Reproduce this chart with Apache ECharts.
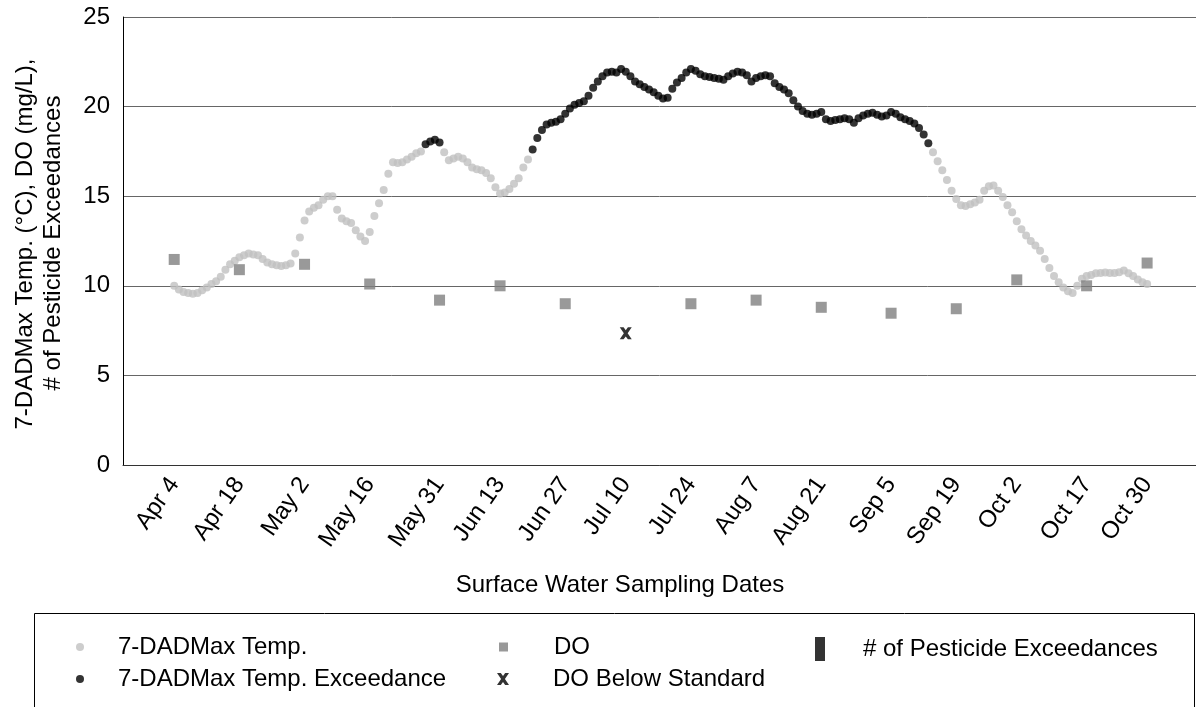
<!DOCTYPE html>
<html>
<head>
<meta charset="utf-8">
<script src="https://cdn.jsdelivr.net/npm/echarts@6/dist/echarts.min.js"></script>
<style>
  html, body { margin: 0; padding: 0; background: #fff; }
  #chart { width: 1196px; height: 707px; }
</style>
</head>
<body>
<div id="chart"></div>
<script>
// sampling dates (labels) and their day offset from Apr 4
const sampleLabels = ["Apr 4", "Apr 18", "May 2", "May 16", "May 31", "Jun 13", "Jun 27", "Jul 10",
  "Jul 24", "Aug 7", "Aug 21", "Sep 5", "Sep 19", "Oct 2", "Oct 17", "Oct 30"];
const sampleDays = [0, 14, 28, 42, 57, 70, 84, 97, 111, 125, 139, 154, 168, 181, 196, 209];

// dissolved oxygen (mg/L) per sampling date, null where below standard
const doValues = [11.47, 10.9, 11.2, 10.1, 9.2, 10.0, 9.0, null, 9.0, 9.2, 8.8, 8.47, 8.72, 10.33, 10.0, 11.27];
const doBelowValues = [null, null, null, null, null, null, null, 7.35, null, null, null, null, null, null, null, null];

// daily 7-DADMax temperature (°C) starting Apr 4
const tempValues = [
  10.0, 9.8, 9.65, 9.6, 9.55, 9.6, 9.75, 9.9, 10.1, 10.25,
  10.5, 10.9, 11.2, 11.4, 11.6, 11.7, 11.8, 11.75, 11.7, 11.5,
  11.3, 11.2, 11.15, 11.1, 11.15, 11.25, 11.8, 12.7, 13.65, 14.15,
  14.35, 14.5, 14.8, 15.0, 15.0, 14.25, 13.75, 13.6, 13.5, 13.1,
  12.75, 12.5, 13.0, 13.9, 14.6, 15.35, 16.25, 16.9, 16.85, 16.9,
  17.05, 17.2, 17.4, 17.5, 17.9, 18.05, 18.15, 18.0, 17.45, 17.0,
  17.1, 17.2, 17.1, 16.9, 16.6, 16.5, 16.45, 16.3, 16.0, 15.5,
  15.15, 15.2, 15.4, 15.7, 16.0, 16.6, 17.05, 17.6, 18.25, 18.7,
  19.0, 19.1, 19.15, 19.3, 19.6, 19.9, 20.1, 20.2, 20.3, 20.6,
  21.05, 21.4, 21.7, 21.9, 21.95, 21.9, 22.1, 21.95, 21.7, 21.4,
  21.25, 21.1, 20.95, 20.8, 20.6, 20.45, 20.5, 21.0, 21.35, 21.6,
  21.9, 22.1, 22.0, 21.8, 21.7, 21.65, 21.6, 21.55, 21.5, 21.7,
  21.85, 21.95, 21.9, 21.75, 21.4, 21.6, 21.7, 21.75, 21.7, 21.3,
  21.1, 20.95, 20.75, 20.35, 20.0, 19.75, 19.6, 19.55, 19.6, 19.7,
  19.3, 19.2, 19.25, 19.3, 19.35, 19.3, 19.1, 19.35, 19.5, 19.6,
  19.65, 19.55, 19.45, 19.5, 19.7, 19.6, 19.4, 19.3, 19.2, 19.05,
  18.8, 18.45, 17.95, 17.45, 16.95, 16.45, 15.9, 15.3, 14.85, 14.5,
  14.45, 14.55, 14.65, 14.8, 15.3, 15.55, 15.6, 15.3, 14.95, 14.5,
  14.1, 13.6, 13.15, 12.8, 12.5, 12.25, 11.95, 11.5, 11.0, 10.55,
  10.2, 9.9, 9.7, 9.6, 10.0, 10.4, 10.55, 10.6, 10.7, 10.72,
  10.74, 10.72, 10.72, 10.75, 10.85, 10.7, 10.55, 10.35, 10.2, 10.1
];
const EXCEED_LIMIT = 17.5;

// no pesticide exceedances in this period
const pesticideValues = [];

const FONT = "Liberation Sans, Arial, sans-serif";
const X_MARK = "path://M0,0 L3.2,0 L5,2.4 L6.8,0 L10,0 L6.6,5 L10,10 L6.8,10 L5,7.6 L3.2,10 L0,10 L3.4,5 Z";
const SQ = "path://M0,0 H10 V10 H0 Z";
const TALL = "path://M0,0 H10 V24 H0 Z";

const tempNormal = [], tempExceed = [];
tempValues.forEach((v, d) => {
  if (v > EXCEED_LIMIT) tempExceed.push([d, v]); else tempNormal.push([d, v]);
});
const doData = [], doBelowData = [];
sampleDays.forEach((d, i) => {
  if (doValues[i] != null) doData.push([d, doValues[i]]);
  if (doBelowValues[i] != null) doBelowData.push([d, doBelowValues[i]]);
});
const labelByDay = {};
sampleDays.forEach((d, i) => { labelByDay[d] = sampleLabels[i]; });

// one legend block per entry so each sits where the original has it
function leg(name, icon, w, h, left, top, gap){
  return {
    data: [{ name, icon }], left, top, padding: 0, orient: "vertical",
    itemWidth: w, itemHeight: h, selectedMode: false,
    textStyle: { fontFamily: FONT, fontSize: 24, color: "#000", lineHeight: 24, padding: [0, 0, 0, gap] }
  };
}

const chart = echarts.init(document.getElementById("chart"));
chart.setOption({
  animation: false,
  grid: { left: 123, right: 0, top: 17, bottom: 242 },
  xAxis: {
    type: "value", min: -11, max: 219.5,
    splitLine: { show: false },
    axisTick: { show: false },
    axisLine: { show: true, onZero: false, lineStyle: { color: "#333", width: 1 } },
    axisLabel: {
      customValues: sampleDays,
      formatter: v => labelByDay[v] || "",
      rotate: 55, margin: 15,
      fontFamily: FONT, fontSize: 24, color: "#000"
    }
  },
  yAxis: {
    type: "value", min: 0, max: 25, interval: 5,
    axisLine: { show: true, onZero: false, lineStyle: { color: "#000", width: 1 } },
    axisTick: { show: false },
    splitLine: { show: true, lineStyle: { color: "#666", width: 1 } },
    axisLabel: { fontFamily: FONT, fontSize: 24, color: "#000", margin: 13 }
  },
  legend: [
    leg("7-DADMax Temp.", "circle", 8, 8, 76, 635, 29),
    leg("7-DADMax Temp. Exceedance", "circle", 8, 8, 76, 667, 29),
    leg("DO", SQ, 9, 9, 499, 635, 41),
    leg("DO Below Standard", X_MARK, 12, 12, 497, 667, 39),
    leg("# of Pesticide Exceedances", TALL, 10, 24, 815, 637, 33)
  ],
  graphic: [
    { type: "rect", shape: { x: 34.5, y: 613.5, width: 1160, height: 120 },
      style: { fill: null, stroke: "#000", lineWidth: 1 }, silent: true },
    { type: "text", x: 620, y: 585,
      style: { text: "Surface Water Sampling Dates", font: "24px " + FONT, fill: "#000",
        textAlign: "center", textVerticalAlign: "middle" } },
    { type: "text", x: 25, y: 244, rotation: Math.PI / 2,
      style: { text: "7-DADMax Temp. (°C), DO (mg/L),", font: "24px " + FONT, fill: "#000",
        textAlign: "center", textVerticalAlign: "middle" } },
    { type: "text", x: 53, y: 243, rotation: Math.PI / 2,
      style: { text: "# of Pesticide Exceedances", font: "24px " + FONT, fill: "#000",
        textAlign: "center", textVerticalAlign: "middle" } }
  ],
  series: [
    { name: "7-DADMax Temp.", type: "scatter", symbol: "circle", symbolSize: 8,
      itemStyle: { color: "#c0c0c0" }, data: tempNormal },
    { name: "7-DADMax Temp. Exceedance", type: "scatter", symbol: "circle", symbolSize: 8,
      itemStyle: { color: "#000" }, data: tempExceed },
    { name: "DO", type: "scatter", symbol: "rect", symbolSize: 11,
      itemStyle: { color: "#7f7f7f" }, data: doData },
    { name: "DO Below Standard", type: "scatter", symbol: X_MARK, symbolSize: 12,
      itemStyle: { color: "#000" }, data: doBelowData },
    { name: "# of Pesticide Exceedances", type: "scatter", symbol: "rect",
      itemStyle: { color: "#000" }, data: pesticideValues }
  ]
});
</script>
</body>
</html>
